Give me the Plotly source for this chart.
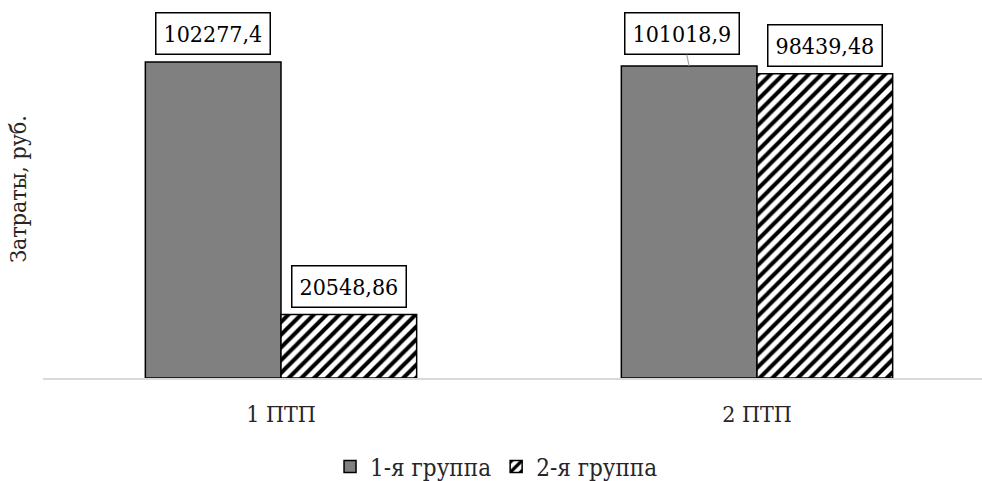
import plotly.graph_objects as go

# Data
categories = ["1 ПТП", "2 ПТП"]
group1 = [102277.4, 101018.9]
group2 = [20548.86, 98439.48]
series_names = ["1-я группа", "2-я группа"]
label_text_g1 = ["102277,4", "101018,9"]
label_text_g2 = ["20548,86", "98439,48"]

FONT = "DejaVu Serif Condensed, DejaVu Serif"
BARGAP = 0.43
half = (1 - BARGAP) / 4  # offset from category centre to each bar centre

fig = go.Figure()
fig.add_trace(go.Bar(
    x=categories, y=group1, name=series_names[0],
    marker=dict(color="#808080", line=dict(color="black", width=1.5)),
))
fig.add_trace(go.Bar(
    x=categories, y=group2, name=series_names[1],
    marker=dict(color="white", line=dict(color="black", width=1.5),
                pattern=dict(shape="/", fgcolor="black", bgcolor="white",
                             size=9, solidity=0.45, fillmode="replace")),
))

# Boxed value labels
def add_label(xpos, yval, text, **kw):
    base = dict(x=xpos, y=yval, xref="x", yref="y", text=text,
                font=dict(family=FONT, size=23, color="black"),
                bordercolor="black", borderwidth=1.5, bgcolor="white",
                borderpad=7)
    base.update(kw)
    fig.add_annotation(**base)

for i, (v, t) in enumerate(zip(group1, label_text_g1)):
    if i == 1:
        add_label(i - half, v, t, showarrow=True, arrowhead=0,
                  arrowcolor="#a6a6a6", arrowwidth=1.2, ax=-7, ay=-32,
                  standoff=0)
    else:
        add_label(i - half, v, t, showarrow=False, yanchor="bottom", yshift=7)
for i, (v, t) in enumerate(zip(group2, label_text_g2)):
    add_label(i + half, v, t, showarrow=False, yanchor="bottom", yshift=7)

ymax = 378 * group1[0] / 316

fig.update_layout(
    width=982, height=481,
    margin=dict(l=43, r=0, t=0, b=103, autoexpand=False),
    paper_bgcolor="white", plot_bgcolor="white",
    barmode="group", bargap=BARGAP, bargroupgap=0,
    font=dict(family=FONT, size=23, color="#262626"),
    showlegend=True,
    legend=dict(orientation="h", x=0.483, xanchor="center", y=-0.235,
                yanchor="middle", font=dict(family=FONT, size=24, color="#262626"),
                itemwidth=30, traceorder="normal"),
    xaxis=dict(range=[-0.5, 1.4727], showline=True, linecolor="#d9d9d9",
               linewidth=1.5, ticks="", showgrid=False, zeroline=False,
               automargin=False,
               tickfont=dict(family=FONT, size=23, color="#262626"),
               ticklabelstandoff=15),
    yaxis=dict(range=[0, ymax], showticklabels=False, showgrid=False,
               zeroline=False, showline=False, ticks="", automargin=False,
               title=dict(text="Затраты, руб.", standoff=8,
                          font=dict(family=FONT, size=23, color="#262626"))),
)

fig.write_html("out.html")
